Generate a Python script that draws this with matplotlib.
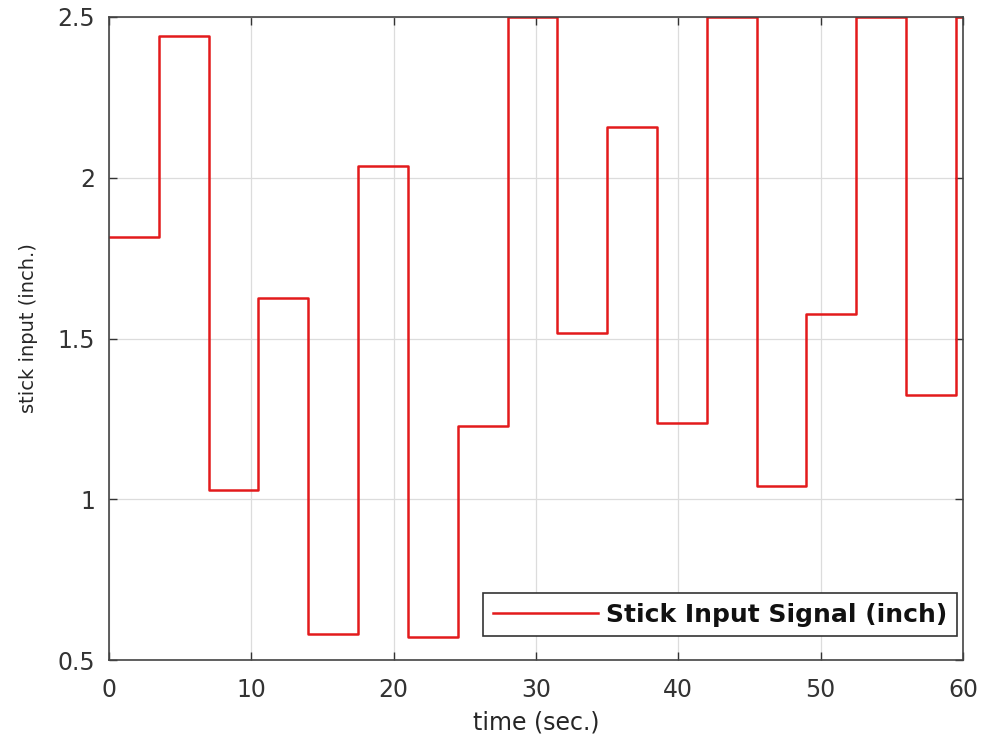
import matplotlib
matplotlib.use("Agg")
import matplotlib.pyplot as plt

step_times = [0, 3.5, 7, 10.5, 14, 17.5, 21, 24.5, 28, 31.5, 35, 38.5, 42, 45.5, 49, 52.5, 56, 59.5, 60]
stick_values = [1.816, 2.441, 1.029, 1.626, 0.581, 2.037, 0.571, 1.228, 2.5, 1.517,
                2.158, 1.237, 2.5, 1.041, 1.576, 2.5, 1.324, 2.5, 2.5]
xticks = [0, 10, 20, 30, 40, 50, 60]
yticks = [0.5, 1, 1.5, 2, 2.5]
ytick_labels = ['0.5', '1', '1.5', '2', '2.5']

plt.rcParams['font.family'] = ['DejaVu Sans']
fig = plt.figure(figsize=(9.84, 7.4), dpi=100)
ax = fig.add_axes([109 / 984, 1 - 660 / 740, 854 / 984, 643 / 740])
ax.step(step_times, stick_values, where='post', color='#e31a1c', lw=1.8,
        label='Stick Input Signal (inch)')
ax.set_xlim(0, 60)
ax.set_ylim(0.5, 2.5)
ax.set_xticks(xticks)
ax.set_yticks(yticks)
ax.set_yticklabels(ytick_labels)
ax.grid(True, which='major', color='#dcdcdc', lw=0.9)
ax.set_axisbelow(True)
ax.tick_params(which='major', direction='in', length=6, width=1.0, labelsize=17,
               colors='#333333', top=True, right=True)
ax.tick_params(axis='y', pad=10)
ax.tick_params(axis='x', pad=13)
for s in ax.spines.values():
    s.set_color('#444444')
    s.set_linewidth(1.2)
ax.set_xlabel('time (sec.)', fontsize=17, color='#262626', labelpad=6)
ax.set_ylabel('stick input (inch.)', fontsize=14, color='#262626')
ax.yaxis.set_label_coords(-0.083, 0.516)
leg = ax.legend(loc='lower right', bbox_to_anchor=(0.993, 0.037),
                prop={'weight': 'bold', 'size': 18}, fancybox=False,
                edgecolor='#333333', framealpha=1, handlelength=4.2, handletextpad=0.35,
                borderaxespad=0.0, borderpad=0.38)
leg.get_frame().set_linewidth(1.2)
for t in leg.get_texts():
    t.set_color('#111111')
fig.savefig('out.png', dpi=100)
